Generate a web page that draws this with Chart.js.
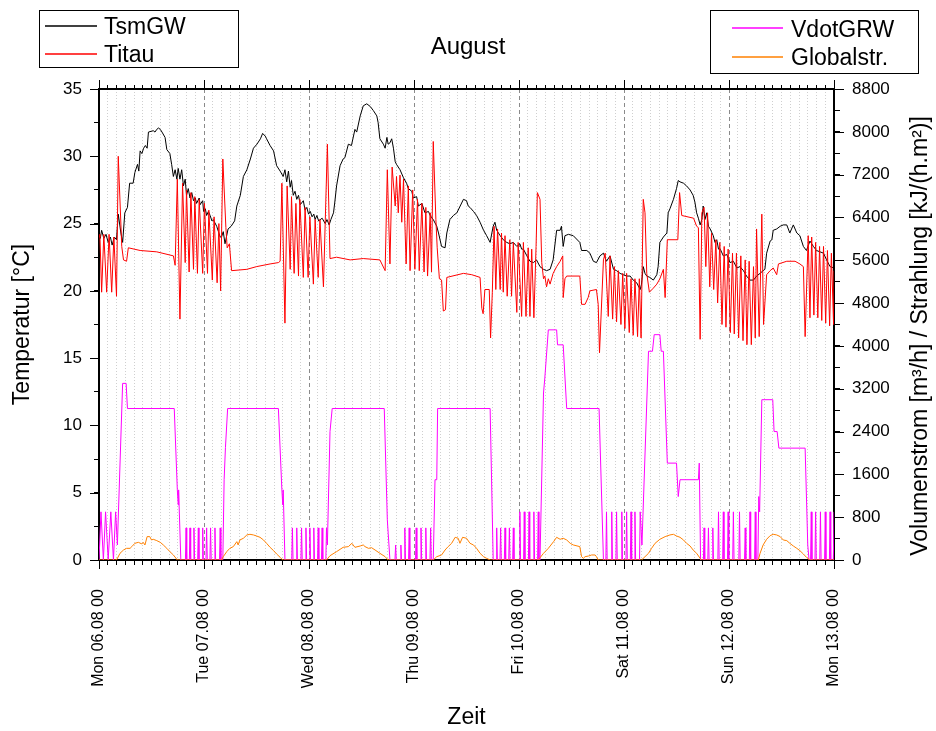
<!DOCTYPE html>
<html>
<head>
<meta charset="utf-8">
<script src="https://cdn.jsdelivr.net/npm/chart.js@4/dist/chart.umd.min.js"></script>
<style>
  html, body { margin: 0; padding: 0; background: #fff; }
  #wrap { width: 936px; height: 731px; position: relative; }
</style>
</head>
<body>
<div id="wrap"><canvas id="c" width="936" height="731"></canvas></div>
<script>
// ---- tick labels ----
const dayLabels = ['Mon 06.08 00','Tue 07.08 00','Wed 08.08 00','Thu 09.08 00','Fri 10.08 00','Sat 11.08 00','Sun 12.08 00','Mon 13.08 00'];
const seriesNames = ['TsmGW', 'Titau', 'VdotGRW', 'Globalstr.'];

// ---- TsmGW [°C], time in hours since Mon 06.08 00:00 ----
const tsmH = [0.0,0.3,0.6,1.1,1.6,2.1,2.6,3.0,3.5,4.0,4.4,5.0,5.4,5.9,6.5,7.0,7.8,8.2,8.8,9.1,9.4,9.8,10.2,10.6,11.0,11.3,12.4,12.8,13.2,13.6,14.0,14.4,15.1,15.5,16.2,16.6,17.0,17.4,17.8,18.1,18.5,18.9,19.3,19.7,20.0,20.4,20.8,21.2,21.6,22.0,22.3,22.9,23.1,23.7,23.9,24.3,24.6,25.0,25.4,25.8,26.1,26.9,27.3,27.7,28.0,28.4,28.8,29.5,30.2,31.0,31.5,32.3,33.0,33.8,34.6,35.3,36.1,36.9,37.4,38.0,38.3,39.1,39.9,40.6,41.4,42.1,42.5,42.9,43.3,43.7,44.0,44.4,44.8,45.2,45.6,46.0,46.7,47.1,47.5,47.9,48.3,48.7,49.1,49.4,49.8,50.2,51.0,51.7,52.1,52.6,53.0,53.6,53.9,54.3,55.1,55.8,56.2,57.0,57.7,58.5,58.9,59.7,60.4,61.2,62.0,62.7,63.5,63.8,64.2,65.0,65.4,65.8,66.1,66.5,66.9,67.3,67.7,68.0,68.8,69.6,70.3,70.7,71.5,71.8,72.6,73.0,73.8,74.5,75.3,75.7,76.4,77.2,77.6,78.3,79.1,79.5,80.2,81.0,81.8,83.3,84.0,84.4,84.8,85.6,86.3,87.1,87.9,88.6,89.4,89.8,90.1,90.5,90.9,91.7,92.4,93.2,93.9,94.7,95.5,96.2,96.6,97.0,97.8,98.5,99.3,100.0,100.8,101.6,102.3,103.1,103.8,104.6,105.4,105.7,106.1,106.5,107.3,108.4,109.9,110.3,111.5,112.2,113.0,113.7,114.5,115.3,116.0,116.8,117.6,118.3,119.1,119.8,120.6,121.4,122.1,122.9,123.7,124.0,124.4,124.8,125.2,125.9,126.7,127.5,127.8,128.2,129.0,129.8,130.1,130.5,131.3,132.0,132.4,132.8,133.6,134.3,135.1,135.8,136.2,136.6,137.0,137.4,137.8,138.1,138.5,138.9,139.3,139.7,140.4,140.8,141.2,141.6,142.0,142.7,143.5,144.2,145.0,145.8,146.5,147.3,148.0,148.8,149.6,150.3,151.1,151.8,152.2,152.6,153.4,153.8,154.1,154.9,155.7,156.4,157.2,157.9,158.7,159.5,160.2,161.0,161.7,162.5,163.3,164.0,164.8,165.6,166.3,167.1,168.0];
const tsmT = [24.0,23.9,24.5,23.9,24.2,23.6,24.0,23.4,24.0,23.8,25.7,24.3,23.6,25.8,26.2,28.0,28.0,28.8,29.4,28.9,30.4,30.2,30.6,30.8,30.6,31.8,31.9,31.8,32.0,32.1,32.0,31.8,31.4,30.5,30.2,29.4,28.5,29.0,28.3,29.1,28.3,29.0,27.8,28.3,27.1,27.6,26.9,27.3,26.7,26.9,26.5,26.9,26.4,26.7,25.9,26.1,25.6,25.9,25.6,25.2,25.3,24.8,24.4,24.0,24.0,24.4,23.5,24.6,24.8,25.2,26.3,27.1,28.5,29.0,29.8,30.6,30.9,31.3,31.7,31.5,31.3,30.8,30.4,29.3,28.9,28.5,29.0,28.1,28.9,27.7,28.2,27.1,27.4,26.8,27.1,26.4,26.7,26.0,26.2,25.7,25.9,25.5,25.7,25.3,25.6,25.2,25.4,25.0,25.3,24.9,25.3,25.8,26.6,27.8,29.3,29.8,29.9,30.9,30.8,32.0,31.8,33.0,33.75,33.9,33.7,33.4,33.0,32.5,31.3,30.9,30.6,31.4,30.9,31.0,31.3,30.6,29.6,29.4,29.0,28.4,28.0,27.6,27.4,26.9,27.0,26.3,26.5,25.8,25.9,25.6,25.3,24.8,24.3,23.3,23.2,24.3,25.3,25.6,25.8,26.8,26.7,26.3,26.2,25.9,25.6,25.1,24.5,24.1,23.6,24.3,24.8,25.1,24.5,24.1,23.8,23.6,23.5,23.6,23.3,23.5,23.1,23.1,22.6,22.2,22.1,22.3,21.8,21.6,21.5,21.6,22.3,24.5,24.5,24.8,23.3,24.1,24.2,24.1,23.6,23.0,23.0,22.8,22.2,22.1,22.6,22.8,22.2,22.6,21.6,21.5,21.3,21.2,21.1,21.1,20.8,20.6,20.1,20.5,21.8,21.3,21.1,21.0,20.8,21.2,21.8,23.6,24.0,24.3,25.8,26.1,26.8,27.6,28.2,28.1,28.0,27.8,27.5,27.1,26.6,25.8,25.4,24.9,25.3,26.3,25.3,25.8,24.8,24.6,24.1,23.6,23.8,23.1,23.1,22.6,22.7,22.1,22.2,21.7,21.8,21.5,21.1,20.8,20.8,21.1,21.3,21.5,21.6,22.8,23.7,23.8,24.5,24.6,24.8,24.9,24.9,24.3,24.9,24.3,24.1,23.3,23.0,23.7,23.3,23.0,22.9,22.8,22.3,21.8,21.7];

// ---- Titau [°C] ----
const tiH = [0.0,0.2,0.6,1.1,1.75,2.3,2.9,3.4,4.0,4.4,5.2,5.6,6.3,6.7,9.4,13.2,17.0,17.4,17.9,18.5,19.1,19.7,20.0,20.6,21.0,21.6,21.9,22.5,22.9,23.7,24.1,24.8,25.1,25.9,26.3,27.0,27.4,27.8,28.3,29.0,29.3,29.8,30.3,33.8,36.0,39.1,41.0,41.4,41.8,42.5,43.0,43.7,44.0,44.6,45.0,45.6,45.9,46.7,47.1,47.8,48.2,49.0,49.4,50.1,50.5,51.3,52.2,52.8,54.3,57.4,60.4,64.2,65.4,65.9,66.5,67.0,67.7,68.0,68.4,68.8,69.2,69.6,70.2,70.7,71.1,71.7,72.2,72.8,73.2,73.8,74.3,74.7,75.1,75.7,76.0,76.4,77.0,77.3,77.8,78.3,78.7,79.2,79.5,83.3,85.2,87.1,87.5,87.8,88.2,89.2,89.5,89.9,90.3,90.7,91.1,91.7,92.0,92.4,92.8,93.3,93.9,94.3,94.7,95.5,95.8,96.6,97.0,97.6,98.1,98.5,98.9,99.4,99.9,100.2,100.8,101.2,101.6,101.9,102.3,102.7,103.1,103.8,104.6,105.4,106.0,106.1,106.5,106.9,109.9,110.3,111.1,111.8,112.2,113.7,114.1,114.4,115.3,115.7,116.4,116.8,117.4,117.8,118.3,118.7,119.3,119.7,120.2,120.6,121.2,121.6,122.1,122.5,123.1,123.5,123.9,124.4,124.8,125.2,125.8,126.7,127.5,128.2,129.0,129.4,129.9,132.3,132.7,133.2,135.9,136.6,137.0,137.4,137.8,138.3,138.7,139.1,139.6,140.0,140.5,141.0,141.4,141.9,142.4,142.9,143.3,143.8,144.3,144.8,145.2,145.7,146.2,146.7,147.2,147.7,148.1,148.6,149.1,149.6,150.0,150.3,150.9,151.5,151.9,152.6,153.4,154.1,154.9,155.3,157.2,159.1,160.2,161.0,161.4,162.1,162.5,162.9,163.4,163.8,164.3,164.7,165.2,165.6,166.1,166.5,167.0,167.4,167.9,168.0];
const tiT = [24.0,24.2,19.9,24.2,19.9,24.2,19.9,24.0,19.6,30.0,23.3,22.3,22.2,23.2,23.0,22.9,22.6,21.9,28.3,17.9,28.0,22.1,27.5,21.4,27.3,21.6,27.0,21.3,26.8,21.3,26.5,21.3,26.0,20.8,25.5,20.6,25.0,20.0,29.8,24.7,23.2,23.5,21.5,21.6,21.8,22.0,22.1,22.2,28.0,17.6,27.8,21.6,27.0,21.3,26.5,21.1,26.8,21.0,26.2,21.0,25.5,20.5,25.3,21.0,25.3,20.3,30.9,22.4,22.5,22.3,22.4,22.3,21.5,29.0,22.0,29.2,26.3,28.5,25.8,28.6,25.1,28.3,22.0,27.8,21.5,27.5,21.6,26.8,21.5,26.5,21.4,26.2,21.1,25.8,21.4,31.1,25.3,23.2,20.9,20.8,18.5,18.6,21.0,21.3,21.2,21.0,18.7,18.3,20.1,20.1,16.5,19.9,24.8,20.1,24.6,20.1,24.3,19.9,24.1,19.6,23.8,19.6,23.6,18.4,23.6,18.1,23.6,18.1,23.2,18.1,23.1,18.0,23.3,27.3,26.8,22.1,20.9,21.1,20.3,20.9,20.5,21.3,21.8,22.2,22.6,19.5,20.9,21.1,21.1,19.0,19.0,19.5,20.0,20.1,19.0,15.4,22.3,22.8,18.1,22.6,17.9,21.8,17.7,21.5,17.5,21.3,17.2,21.3,16.9,20.9,16.7,20.9,16.6,20.9,16.5,26.8,25.8,21.3,19.9,20.2,20.5,20.9,21.6,19.5,23.8,23.8,27.3,25.6,25.4,24.8,24.7,16.4,25.8,26.2,21.8,25.8,20.3,24.3,20.1,23.8,19.1,23.6,17.5,23.3,17.3,23.1,16.9,22.8,16.8,22.8,16.5,22.6,16.3,22.3,16.0,22.2,16.0,21.8,16.5,24.6,16.6,25.7,17.5,21.2,21.5,21.7,21.2,22.0,22.2,22.2,22.0,21.8,16.6,24.1,18.0,24.0,18.2,23.6,18.0,23.3,17.8,23.3,17.6,23.0,17.4,22.8,17.5,21.5];

// ---- VdotGRW [m³/h] ----
const vH = [0.0,0.45,1.0,1.5,2.1,2.7,3.3,3.8,4.2,5.4,6.2,6.5,17.2,17.9,18.1,18.2,18.7,
 19.75,19.9,20.05, 20.65,20.8,20.95, 21.55,21.7,21.85, 22.55,22.7,22.85, 23.55,23.7,23.85, 24.45,24.6,24.75, 25.35,25.5,25.65, 26.35,26.5,26.65, 27.55,27.7,27.85,
 28.3,28.6,28.9,29.4,41.0,41.8,42.0,42.1,42.5,
 44.05,44.2,44.35, 45.05,45.2,45.35, 46.15,46.3,46.45, 47.15,47.3,47.45, 48.05,48.2,48.35, 48.95,49.1,49.25, 49.95,50.1,50.25, 50.85,51.0,51.15, 51.85,52.0,
 52.2,52.8,53.3,65.2,65.9,66.1,66.5,
 67.65,67.8,67.95, 68.85,69.0,69.15,
 69.75,69.9,70.05, 70.75,70.9,71.05, 72.35,72.5,72.65, 73.45,73.6,73.75, 74.55,74.7,74.85, 75.65,75.8,75.95,
 76.4,76.8,77.2,77.4,89.4,90.1,
 90.75,90.9,91.05, 91.65,91.8,91.95, 92.65,92.8,92.95, 93.65,93.8,93.95, 94.55,94.7,94.85,
 96.05,96.2,96.35, 97.05,97.2,97.35, 98.15,98.3,98.45, 99.25,99.4,99.55, 100.25,100.4,100.55,
 100.8,101.6,101.9,102.7,104.6,104.8,106.1,106.9,114.3,115.3,
 115.85,116.0,116.15, 117.05,117.2,117.35, 118.15,118.3,118.45, 119.35,119.5,119.65, 120.45,120.6,120.75, 121.45,121.6,121.75, 122.35,122.5,122.65, 123.55,123.7,
 124.1,125.6,126.5,126.9,128.2,128.5,129.0,129.9,132.0,132.4,132.8,137.0,137.2,137.5,
 138.15,138.3,138.45, 139.15,139.3,139.45, 140.15,140.3,140.45,
 141.45,141.6,141.75, 142.55,142.7,142.85, 143.65,143.8,143.95, 144.85,145.0,145.15, 146.25,146.4,146.55, 147.55,147.7,147.85, 148.65,148.8,148.95, 149.85,150.0,150.15,
 150.6,150.8,151.0,151.5,154.0,154.3,155.0,155.4,161.4,162.0,162.3,
 162.65,162.8,162.95, 163.65,163.8,163.95, 164.75,164.9,165.05, 165.85,166.0,166.15, 166.95,167.1,167.25, 167.85,168.0];
const vV = [0,900,0,900,0,900,0,900,280,3300,3300,2830,2830,1310,1030,1310,0,
 0,600,0, 0,600,0, 0,600,0, 0,600,0, 0,600,0, 0,600,0, 0,600,0, 0,600,0, 0,600,0,
 0,1500,2100,2830,2830,1310,1030,1310,0,
 0,600,0, 0,600,0, 0,600,0, 0,600,0, 0,600,0, 0,600,0, 0,600,0, 0,600,0, 0,600,
 280,2400,2830,2830,750,500,0,
 0,280,0, 0,280,0,
 0,600,0, 0,600,0, 0,600,0, 0,600,0, 0,600,0, 0,600,0,
 0,1500,1500,2830,2830,0,
 0,600,0, 0,600,0, 0,600,0, 0,600,0, 0,600,0,
 0,900,0, 0,900,0, 0,900,0, 0,900,0, 0,900,0,
 0,3120,3400,4300,4300,4020,4020,2830,2830,0,
 0,900,0, 0,900,0, 0,900,0, 0,900,0, 0,900,0, 0,900,0, 0,900,0, 0,900,
 280,3900,3900,4210,4210,3900,3900,1810,1810,1185,1500,1500,1810,0,
 0,600,0, 0,600,0, 0,600,0,
 0,900,0, 0,900,0, 0,900,0, 0,900,0, 0,900,0, 0,600,0, 0,900,0, 0,900,0,
 0,1185,900,2995,2995,2400,2400,2090,2090,280,0,
 0,900,0, 0,900,0, 0,900,0, 0,900,0, 0,900,0, 0,900];

// ---- Globalstrahlung [kJ/(h.m²)] ----
const gH = [0,4.0,4.8,5.6,6.3,7.1,7.5,8.2,9.0,9.8,10.1,10.5,11.0,11.6,12.0,12.4,13.2,14.0,14.7,15.5,16.2,17.0,17.9,
 28.0,28.4,29.2,29.9,30.7,31.5,31.8,32.2,33.0,33.8,34.5,35.3,36.0,36.8,37.6,38.3,39.1,39.9,40.6,41.4,42.0,
 52.0,52.8,54.3,55.8,57.0,57.8,58.5,59.7,60.4,60.8,61.6,62.3,63.1,64.2,65.4,66.1,
 76.4,77.2,78.3,79.1,79.8,80.6,81.4,82.1,82.5,83.1,84.0,84.8,85.6,86.3,87.1,87.9,88.6,89.4,
 100.4,101.6,102.7,103.9,104.6,105.4,106.1,106.9,107.7,108.4,109.9,110.3,110.7,111.1,111.9,112.6,113.4,113.7,114.1,
 124.0,124.8,125.6,126.3,127.1,128.2,129.4,130.5,131.3,132.0,132.8,133.6,134.3,135.1,135.8,136.6,137.4,137.7,
 150.7,151.1,151.8,152.6,153.4,154.1,154.9,155.7,156.4,157.2,157.9,158.7,159.5,160.2,161.0,161.7,162.5,168.0];
const gV = [0,0,125,187,218,218,250,312,330,300,330,281,437,437,374,387,362,330,281,218,156,94,0,
 0,62,156,218,250,343,281,374,406,468,480,468,449,424,374,312,237,175,112,50,0,
 0,80,156,237,250,312,237,262,281,250,218,230,187,125,62,0,
 0,62,94,187,250,312,424,406,312,424,406,312,281,218,125,62,31,0,
 0,125,218,343,424,387,406,374,312,281,250,62,31,62,75,94,94,62,0,
 0,62,125,218,312,387,437,468,480,449,424,374,312,262,187,125,31,0,
 0,125,281,387,455,480,468,437,374,362,312,262,218,175,112,50,0,0];

const pts = (xs, ys) => xs.map((x, i) => ({x: x, y: ys[i]}));

Chart.defaults.font.family = "'Liberation Sans', Arial, Helvetica, sans-serif";
Chart.defaults.color = '#000';

const isDay = (ctx) => ctx.tick && Math.abs(ctx.tick.value % 24) < 1e-6;

// longer tick marks at the labelled (major) ticks, positioned by each scale
const majorTicks = {
  id: 'majorTicks',
  afterDraw(chart) {
    const ctx = chart.ctx;
    ctx.save();
    ctx.strokeStyle = '#000';
    ctx.lineWidth = 1;
    const defs = [
      {id: 'x', every: 24, len: 9},
      {id: 'xTop', every: 24, len: 9},
      {id: 'y', every: 5, len: 9},
      {id: 'y2', every: 800, len: 10}
    ];
    defs.forEach(d => {
      const s = chart.scales[d.id];
      s.ticks.forEach(t => {
        if (Math.abs(t.value % d.every) > 1e-6) return;
        const p = Math.round(s.getPixelForValue(t.value)) + 0.5;
        ctx.beginPath();
        if (s.position === 'bottom') { ctx.moveTo(p, s.top); ctx.lineTo(p, s.top + d.len); }
        else if (s.position === 'top') { ctx.moveTo(p, s.bottom); ctx.lineTo(p, s.bottom - d.len); }
        else if (s.position === 'left') { ctx.moveTo(s.right, p); ctx.lineTo(s.right - d.len, p); }
        else { ctx.moveTo(s.left, p); ctx.lineTo(s.left + d.len, p); }
        ctx.stroke();
      });
    });
    ctx.restore();
  }
};

const overlay = {
  id: 'overlay',
  afterDraw(chart) {
    const ctx = chart.ctx;
    const ds = chart.data.datasets;
    ctx.save();
    const boxes = [
      {x: 39.5, y: 10.5, w: 199, h: 57, idx: [0, 1], lx1: 45, lx2: 97, tx: 104, ly: [26, 54], ty: [33.5, 61.5]},
      {x: 710.5, y: 10.5, w: 208, h: 63, idx: [2, 3], lx1: 732, lx2: 783, tx: 791, ly: [28, 57], ty: [36.5, 65]}
    ];
    boxes.forEach(b => {
      ctx.fillStyle = '#fff';
      ctx.fillRect(b.x, b.y, b.w, b.h);
      ctx.strokeStyle = '#000';
      ctx.lineWidth = 1;
      ctx.strokeRect(b.x, b.y, b.w, b.h);
      b.idx.forEach((di, k) => {
        ctx.strokeStyle = ds[di].borderColor;
        ctx.lineWidth = 1.5;
        ctx.beginPath();
        ctx.moveTo(b.lx1, b.ly[k]);
        ctx.lineTo(b.lx2, b.ly[k]);
        ctx.stroke();
        ctx.fillStyle = '#000';
        ctx.font = "23px 'Liberation Sans', Arial, sans-serif";
        ctx.textAlign = 'left';
        ctx.textBaseline = 'alphabetic';
        ctx.fillText(ds[di].label, b.tx, b.ty[k]);
      });
    });
    // right axis title (reads bottom to top)
    ctx.translate(921, 336);
    ctx.rotate(-Math.PI / 2);
    ctx.font = "23px 'Liberation Sans', Arial, sans-serif";
    ctx.fillStyle = '#000';
    ctx.textAlign = 'center';
    ctx.textBaseline = 'middle';
    ctx.fillText('Volumenstrom [m\u00B3/h] / Strahlung [kJ/(h.m\u00B2)]', 0, 0);
    ctx.restore();
  }
};

new Chart(document.getElementById('c'), {
  type: 'line',
  data: {
    datasets: [
      {label: seriesNames[0], data: pts(tsmH, tsmT), borderColor: '#000000', borderWidth: 1, pointRadius: 0, yAxisID: 'y', xAxisID: 'x', order: 3},
      {label: seriesNames[1], data: pts(tiH, tiT), borderColor: '#ff0000', borderWidth: 1, pointRadius: 0, yAxisID: 'y', xAxisID: 'x', order: 2},
      {label: seriesNames[2], data: pts(vH, vV), borderColor: '#ff00ff', borderWidth: 1, pointRadius: 0, yAxisID: 'y2', xAxisID: 'x', order: 1},
      {label: seriesNames[3], data: pts(gH, gV), borderColor: '#ff8000', borderWidth: 1, pointRadius: 0, yAxisID: 'y2', xAxisID: 'x', order: 0}
    ]
  },
  options: {
    responsive: false,
    animation: false,
    events: [],
    layout: {padding: 0},
    elements: {line: {tension: 0, fill: false}},
    plugins: {
      legend: {display: false},
      tooltip: {enabled: false},
      title: {
        display: true,
        text: 'August',
        font: {size: 24, weight: 'normal', lineHeight: 1.2},
        color: '#000',
        padding: {top: 33, bottom: 3}
      }
    },
    scales: {
      x: {
        type: 'linear', position: 'bottom', min: 0, max: 168,
        afterFit: s => { s.height = 171; },
        ticks: {
          stepSize: 2, autoSkip: false, maxRotation: 90, minRotation: 90,
          padding: 24, font: {size: 16},
          callback: v => (Math.abs(v % 24) < 1e-6 ? dayLabels[Math.round(v / 24)] : '')
        },
        grid: {
          color: c => isDay(c) ? '#8a8a8a' : '#cfcfcf',
          lineWidth: 1,
          tickLength: 5, tickColor: '#000', tickWidth: 1
        },
        border: {display: true, color: '#000', width: 2, dash: c => isDay(c) ? [4, 3] : [1, 2]},
        title: {display: true, text: 'Zeit', font: {size: 23}, padding: {top: 0, bottom: 0}}
      },
      xTop: {
        type: 'linear', position: 'top', min: 0, max: 168,
        afterFit: s => { s.height = 89 - 64.8; },
        ticks: {display: false, stepSize: 2, autoSkip: false},
        grid: {drawOnChartArea: false, tickLength: 4, color: '#000', tickColor: '#000', tickWidth: 1},
        border: {display: true, color: '#000', width: 2}
      },
      y: {
        type: 'linear', position: 'left', min: 0, max: 35,
        afterFit: s => { s.width = 99; },
        ticks: {stepSize: 2.5, autoSkip: false, padding: 12, font: {size: 17},
                callback: v => (Math.abs(v % 5) < 1e-6 ? String(v) : '')},
        grid: {drawOnChartArea: false, tickLength: 5, color: '#000', tickColor: '#000', tickWidth: 1},
        border: {display: true, color: '#000', width: 2},
        title: {display: true, text: 'Temperatur [°C]', font: {size: 23}, padding: {top: 9, bottom: 0}}
      },
      y2: {
        type: 'linear', position: 'right', min: 0, max: 8800,
        afterFit: s => { s.width = 102; },
        ticks: {stepSize: 400, autoSkip: false, padding: 12, font: {size: 17},
                callback: v => (Math.abs(v % 800) < 1e-6 ? String(v) : '')},
        grid: {drawOnChartArea: false, tickLength: 6, color: '#000', tickColor: '#000', tickWidth: 1},
        border: {display: true, color: '#000', width: 2}
      }
    }
  },
  plugins: [majorTicks, overlay]
});
</script>
</body>
</html>
